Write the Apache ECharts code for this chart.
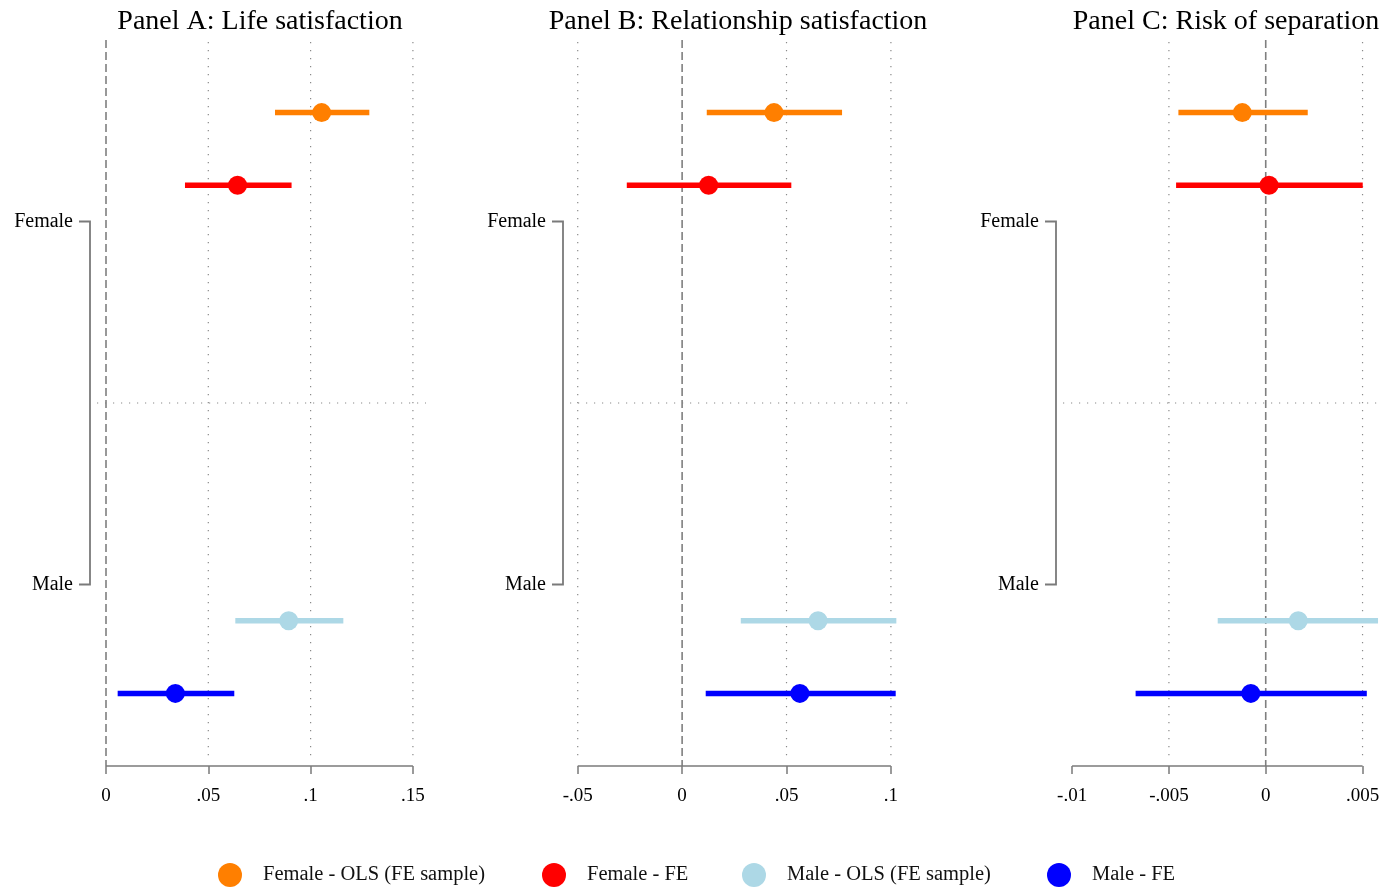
<!DOCTYPE html>
<html>
<head>
<meta charset="utf-8">
<script src="https://cdn.jsdelivr.net/npm/echarts@6/dist/echarts.min.js"></script>
<style>
  html, body { margin: 0; padding: 0; background: #ffffff; }
  #chart { width: 1383px; height: 891px; }
</style>
</head>
<body>
<div id="chart"></div>
<script>
// ---- data ----
const panelTitles = ['Panel A: Life satisfaction', 'Panel B: Relationship satisfaction', 'Panel C: Risk of separation'];

const groupLabels = ['Female', 'Male'];
const groupRows = [2.5, 7.5];     // row position of the group labels
const dividerRow = 5;             // dotted line between the groups

const seriesNames = ['Female - OLS (FE sample)', 'Female - FE', 'Male - OLS (FE sample)', 'Male - FE'];
const seriesRows = [1, 2, 8, 9];

// Panel A: life satisfaction (estimate, lower and upper CI bound)
const lifeEst  = [0.1054, 0.0643, 0.0893, 0.0339];
const lifeLow  = [0.0826, 0.0386, 0.0632, 0.0057];
const lifeHigh = [0.1287, 0.0907, 0.1160, 0.0627];

// Panel B: relationship satisfaction
const relEst  = [0.0440, 0.0127, 0.0651, 0.0564];
const relLow  = [0.0118, -0.0265, 0.0281, 0.0113];
const relHigh = [0.0766, 0.0523, 0.1026, 0.1023];

// Panel C: risk of separation
const sepEst  = [-0.00121, 0.00017, 0.00168, -0.00077];
const sepLow  = [-0.00451, -0.00463, -0.00248, -0.00672];
const sepHigh = [0.00217, 0.00501, 0.00580, 0.00522];

// x-axis ticks and dotted grid lines per panel
const lifeTicks = [0, 0.05, 0.1, 0.15];
const relTicks  = [-0.05, 0, 0.05, 0.1];
const sepTicks  = [-0.01, -0.005, 0, 0.005];
const lifeGridLines = [0.05, 0.1, 0.15];
const relGridLines  = [-0.05, 0.05, 0.1];
const sepGridLines  = [-0.005, 0.005];
const refLine = 0;

// ---- styling ----
const FONT = '"Liberation Serif", "DejaVu Serif", serif';
const colors = ['#FF7F00', '#FF0000', '#ADD8E6', '#0000FF'];
const axisGrey = '#7a7a7a';
const dotGrey = '#8a8a8a';

const panels = [
  { est: lifeEst, low: lifeLow, high: lifeHigh, ticks: lifeTicks, gridLines: lifeGridLines,
    left: 97, right: 957, min: -0.0044, max: 0.1564, titleX: 255 },
  { est: relEst, low: relLow, high: relHigh, ticks: relTicks, gridLines: relGridLines,
    left: 570, right: 471, min: -0.0537, max: 0.1101, titleX: 733 },
  { est: sepEst, low: sepLow, high: sepHigh, ticks: sepTicks, gridLines: sepGridLines,
    left: 1063, right: 4, min: -0.01047, max: 0.00585, titleX: 1221 }
];

function fmtTick(v) {
  return String(v).replace(/^(-?)0\./, '$1.');
}

const option = {
  animation: false,
  backgroundColor: '#ffffff',
  title: [],
  grid: [],
  xAxis: [],
  yAxis: [],
  series: [],
  legend: []
};

panels.forEach(function (p, i) {
  option.title.push({
    text: panelTitles[i],
    left: p.titleX,
    top: 3,
    textAlign: 'center',
    textStyle: { fontFamily: FONT, fontSize: 28, fontWeight: 'normal', color: '#000' }
  });
  option.grid.push({ left: p.left, right: p.right, top: 40, height: 726, containLabel: false });
  option.xAxis.push({
    type: 'value', gridIndex: i, min: p.min, max: p.max, position: 'bottom',
    axisLine: { show: false, onZero: false },
    axisTick: { show: true, customValues: p.ticks, length: 8, lineStyle: { color: axisGrey, width: 1.5 } },
    axisLabel: { show: true, customValues: p.ticks, formatter: fmtTick, margin: 21,
      fontFamily: FONT, fontSize: 19, color: '#000' },
    splitLine: { show: false }
  });
  option.yAxis.push({
    type: 'value', gridIndex: i, min: 0, max: 10, inverse: true,
    axisLine: { show: false, onZero: false },
    axisTick: { show: false },
    splitLine: { show: false },
    axisLabel: {
      show: true, customValues: groupRows, margin: 24,
      formatter: function (v) { const k = groupRows.indexOf(v); return k >= 0 ? groupLabels[k] : ''; },
      fontFamily: FONT, fontSize: 20, color: '#000'
    }
  });

  // dotted vertical grid lines
  option.series.push({
    type: 'custom', xAxisIndex: i, yAxisIndex: i, silent: true, clip: false, z: 1,
    data: p.gridLines.map(function (v) { return [v]; }),
    renderItem: function (params, api) {
      const cs = params.coordSys;
      const x = api.coord([api.value(0), 0])[0];
      return { type: 'line', shape: { x1: x, y1: cs.y + 2, x2: x, y2: cs.y + cs.height - 4 },
        style: { stroke: dotGrey, lineWidth: 1.2, lineDash: [1.2, 6.8] } };
    }
  });
  // dotted divider between Female and Male
  option.series.push({
    type: 'custom', xAxisIndex: i, yAxisIndex: i, silent: true, clip: false, z: 1,
    data: [[dividerRow]],
    renderItem: function (params, api) {
      const cs = params.coordSys;
      const y = api.coord([0, api.value(0)])[1];
      return { type: 'line', shape: { x1: cs.x, y1: y, x2: cs.x + cs.width, y2: y },
        style: { stroke: dotGrey, lineWidth: 1.2, lineDash: [1.2, 6.8] } };
    }
  });
  // dashed reference line at zero
  option.series.push({
    type: 'custom', xAxisIndex: i, yAxisIndex: i, silent: true, clip: false, z: 2,
    data: [[refLine]],
    renderItem: function (params, api) {
      const cs = params.coordSys;
      const x = api.coord([api.value(0), 0])[0];
      return { type: 'line', shape: { x1: x, y1: cs.y, x2: x, y2: cs.y + cs.height },
        style: { stroke: '#7f7f7f', lineWidth: 1.6, lineDash: [8, 4] } };
    }
  });
  // x axis line spanning the tick range
  option.series.push({
    type: 'custom', xAxisIndex: i, yAxisIndex: i, silent: true, clip: false, z: 3,
    data: [[p.ticks[0], p.ticks[p.ticks.length - 1]]],
    renderItem: function (params, api) {
      const cs = params.coordSys;
      const x1 = api.coord([api.value(0), 0])[0];
      const x2 = api.coord([api.value(1), 0])[0];
      const y = cs.y + cs.height;
      return { type: 'line', shape: { x1: x1, y1: y, x2: x2, y2: y },
        style: { stroke: axisGrey, lineWidth: 1.5 } };
    }
  });
  // bracket joining the group labels
  option.series.push({
    type: 'custom', xAxisIndex: i, yAxisIndex: i, silent: true, clip: false, z: 3,
    data: [[groupRows[0], groupRows[groupRows.length - 1]]],
    renderItem: function (params, api) {
      const cs = params.coordSys;
      const y1 = api.coord([0, api.value(0)])[1];
      const y2 = api.coord([0, api.value(1)])[1];
      const x = cs.x - 7;
      return { type: 'polyline', shape: { points: [[x - 11, y1], [x, y1], [x, y2], [x - 11, y2]] },
        style: { stroke: axisGrey, lineWidth: 1.8, fill: null } };
    }
  });

  // estimates with confidence intervals
  seriesNames.forEach(function (name, k) {
    option.series.push({
      type: 'custom', name: name, xAxisIndex: i, yAxisIndex: i, clip: true, z: 5,
      itemStyle: { color: colors[k] },
      encode: { x: [0, 2, 3], y: 1 },
      data: [[p.est[k], seriesRows[k], p.low[k], p.high[k]]],
      renderItem: function (params, api) {
        const c = api.coord([api.value(0), api.value(1)]);
        const lo = api.coord([api.value(2), api.value(1)]);
        const hi = api.coord([api.value(3), api.value(1)]);
        const col = api.visual('color');
        return {
          type: 'group',
          children: [
            { type: 'line', shape: { x1: lo[0], y1: lo[1], x2: hi[0], y2: hi[1] },
              style: { stroke: col, lineWidth: 5.5 } },
            { type: 'circle', shape: { cx: c[0], cy: c[1], r: 9.5 }, style: { fill: col } }
          ]
        };
      }
    });
  });
});

// legend entries laid out along the bottom
const legendLefts = [213, 537, 737, 1042];
seriesNames.forEach(function (name, k) {
  option.legend.push({
    data: [{ name: name, icon: 'circle' }],
    left: legendLefts[k], top: 858,
    itemWidth: 56, itemHeight: 24,
    selectedMode: false,
    textStyle: { fontFamily: FONT, fontSize: 20.5, color: '#111' }
  });
});

const chart = echarts.init(document.getElementById('chart'), null, { renderer: 'canvas' });
chart.setOption(option);
</script>
</body>
</html>
